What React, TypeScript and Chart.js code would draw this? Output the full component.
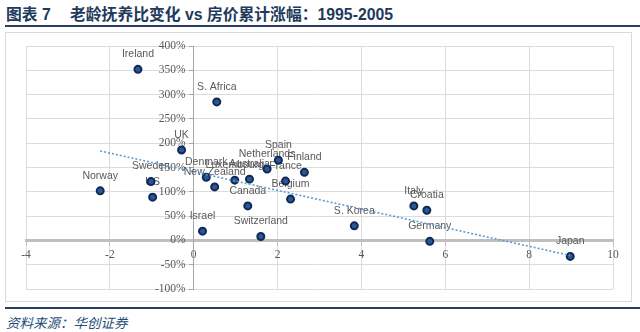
import React, { useEffect, useRef } from 'react';
import { Chart, registerables } from 'chart.js';

Chart.register(...registerables);

// Country labels
const countries = [
  'Ireland', 'S. Africa', 'UK', 'Norway', 'Sweden', 'US', 'Israel', 'Denmark',
  'New Zealand', 'Luxembourg', 'Australia', 'Canada', 'Switzerland', 'Netherlands',
  'Spain', 'France', 'Belgium', 'Finland', 'S. Korea', 'Italy', 'Croatia', 'Germany', 'Japan',
];
// Change in old-age dependency ratio (x)
const dependencyChange = [
  -1.33, 0.55, -0.29, -2.23, -1.02, -0.98, 0.21, 0.30,
  0.50, 0.98, 1.33, 1.29, 1.60, 1.75,
  2.02, 2.19, 2.31, 2.64, 3.83, 5.25, 5.56, 5.63, 8.98,
];
// Cumulative house price growth 1995-2005, % (y)
const priceGrowth = [
  352, 285, 186, 102, 121, 89, 19, 130,
  110, 124, 126, 71, 8, 147,
  165, 122, 85, 140, 30, 71, 62, -2, -33,
];
// Linear trendline end points
const trendX = [-2.23, 8.98];
const trendY = [184, -31];

// Axis ranges
const xRange = [-4, 10];
const xStep = 2;
const yRange = [-100, 400];
const yStep = 50;

const TITLE_PREFIX = '图表 7';
const TITLE = '老龄抚养比变化 vs 房价累计涨幅：1995-2005';
const SOURCE = '资料来源：华创证券';

const labelPlugin = {
  id: 'pointLabels',
  beforeDatasetsDraw(chart: any) {
    const meta = chart.getDatasetMeta(1);
    const ctx = chart.ctx;
    ctx.save();
    ctx.font = '10.5px "Liberation Sans", Arial, sans-serif';
    ctx.fillStyle = '#595959';
    ctx.textAlign = 'center';
    ctx.textBaseline = 'middle';
    meta.data.forEach((pt: any, i: number) => {
      ctx.fillText(countries[i], pt.x, pt.y - 15);
    });
    ctx.restore();
  },
};

export default function App() {
  const canvasRef = useRef<HTMLCanvasElement | null>(null);

  useEffect(() => {
    if (!canvasRef.current) return;
    const tickFont = { family: '"Liberation Serif", "Times New Roman", serif', size: 11.5 };
    const chart = new Chart(canvasRef.current, {
      type: 'scatter',
      data: {
        datasets: [
          {
            type: 'line',
            data: trendX.map((x, i) => ({ x, y: trendY[i] })),
            borderColor: '#5B9BD5',
            borderWidth: 1.6,
            borderDash: [2, 2],
            pointRadius: 0,
            fill: false,
          } as any,
          {
            data: dependencyChange.map((x, i) => ({ x, y: priceGrowth[i] })),
            backgroundColor: '#2F5597',
            borderColor: '#0F2A55',
            borderWidth: 2,
            pointRadius: 3.5,
          },
        ],
      },
      options: {
        animation: false,
        responsive: true,
        maintainAspectRatio: false,
        layout: { padding: { left: 21, top: 14, right: 19, bottom: 13 } },
        plugins: { legend: { display: false }, tooltip: { enabled: false }, title: { display: false } },
        scales: {
          x: {
            type: 'linear',
            position: { y: 0 } as any,
            min: xRange[0],
            max: xRange[1],
            afterFit: (s: any) => { s.height = 0; },
            ticks: { stepSize: xStep, color: '#595959', font: tickFont, padding: 4, maxRotation: 0 },
            grid: {
              color: (c: any) => (c.tick && c.tick.value === 0 ? 'rgba(0,0,0,0)' : '#DCDCDC'),
              tickColor: '#BFBFBF',
              tickLength: 4,
              lineWidth: 1,
            },
            border: { display: true, color: '#BFBFBF', width: 3 },
          },
          y: {
            type: 'linear',
            position: { x: 0 } as any,
            min: yRange[0],
            max: yRange[1],
            afterFit: (s: any) => { s.width = 0; },
            ticks: {
              stepSize: yStep,
              color: '#595959',
              font: tickFont,
              padding: 3,
              callback: (v: any) => `${v}%\u2002\u2009`,
            },
            grid: {
              color: (c: any) => (c.tick && c.tick.value === 0 ? 'rgba(0,0,0,0)' : '#DCDCDC'),
              tickColor: '#A6A6A6',
              tickLength: 4,
              lineWidth: 1,
            },
            border: { display: true, color: '#A6A6A6', width: 1 },
          },
        },
      },
      plugins: [labelPlugin],
    });
    return () => chart.destroy();
  }, []);

  return (
    <div style={{ position: 'fixed', left: 0, top: 0, width: 640, height: 332, background: '#fff', overflow: 'hidden' }}>
      <div
        style={{
          position: 'absolute', left: 6, top: 5, height: 20, lineHeight: '20px', whiteSpace: 'nowrap',
          fontFamily: '"Liberation Sans", Arial, "Noto Sans CJK SC", sans-serif', fontWeight: 'bold',
          fontSize: 15.8, color: '#213A5C',
        }}
      >
        <span>{TITLE_PREFIX}</span>
        <span style={{ position: 'absolute', left: 64 }}>{TITLE}</span>
      </div>
      <div style={{ position: 'absolute', left: 5, top: 25, width: 635, height: 2, background: '#2A3F5F' }} />
      <div style={{ position: 'absolute', left: 5, top: 32, width: 627, height: 270 }}>
        <canvas ref={canvasRef} />
      </div>
      <div
        style={{
          position: 'absolute', left: 5, top: 32, width: 627, height: 270, boxSizing: 'border-box',
          border: '1px solid #D9D9D9', pointerEvents: 'none',
        }}
      />
      <div style={{ position: 'absolute', left: 5, top: 307, width: 635, height: 2, background: '#2A3F5F' }} />
      <div
        style={{
          position: 'absolute', left: 6, top: 312, height: 20, lineHeight: '20px', whiteSpace: 'nowrap',
          fontFamily: '"Noto Sans CJK SC", sans-serif', fontStyle: 'italic', fontSize: 13.5, color: '#1F4E79',
        }}
      >
        {SOURCE}
      </div>
    </div>
  );
}
